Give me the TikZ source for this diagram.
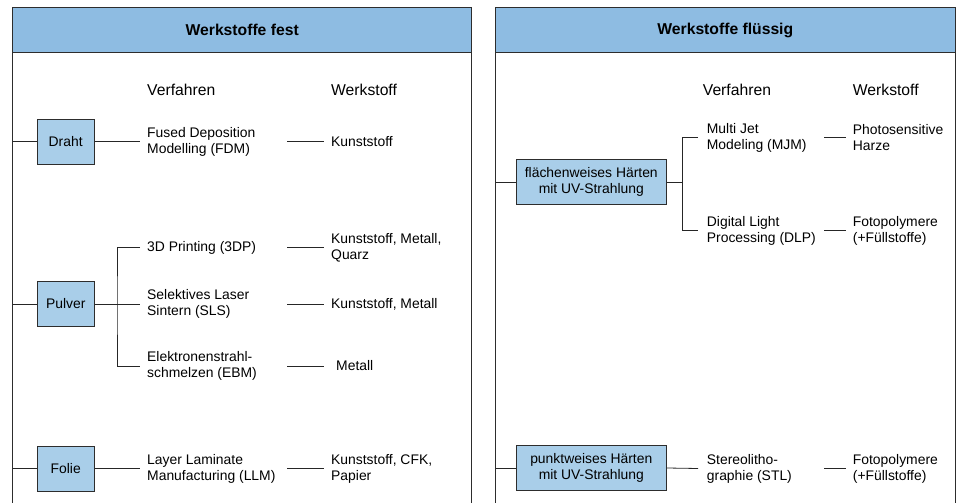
\documentclass[tikz,border=0pt]{standalone}
\usepackage{fontspec}
\setmainfont{Liberation Sans}
\definecolor{headblue}{RGB}{142,188,226}
\definecolor{boxblue}{RGB}{169,206,233}
\definecolor{linegray}{RGB}{45,45,45}
\tikzset{
  panel/.style={draw=linegray, line width=0.9pt},
  header/.style={draw=linegray, fill=headblue, line width=0.9pt},
  title/.style={font=\fontsize{15.7}{18}\selectfont\bfseries, inner sep=0pt},
  colhead/.style={font=\fontsize{15.7}{18}\selectfont, anchor=west, inner sep=0pt},
  catbox/.style={draw=linegray, fill=boxblue, line width=0.9pt, minimum width=57pt, minimum height=45pt, align=center, font=\fontsize{13.9}{16}\selectfont, inner sep=0pt},
  proc/.style={anchor=west, align=left, font=\fontsize{13.9}{16}\selectfont, inner ysep=0pt, inner xsep=7pt},
  conn/.style={draw=black!85, line width=0.8pt},
}
\begin{document}
\begin{tikzpicture}[x=1pt,y=-1pt]
\useasboundingbox (0,0) rectangle (959,503);

% ---------------- left panel ----------------
\draw[panel] (12.7,503) -- (12.7,52) (471.7,52) -- (471.7,503);
\draw[header] (12.7,7) rectangle (471.7,52);
\node[title] (tfest) at (242.2,30) {Werkstoffe fest};
\node[colhead] (vl) at (147,90) {Verfahren};
\node[colhead] (wl) at (331,90) {Werkstoff};

% Draht
\coordinate (lA) at (12.7,141.5);
\node[catbox] (draht) at (65.7,141.5) {Draht};
\node[proc] (fdm) at (140,141.5) {Fused Deposition\\Modelling (FDM)};
\coordinate (dA) at (287,141.5);
\node[proc] (mA) at (324,141.5) {Kunststoff};
\draw[conn] (lA) -- (draht.west);
\draw[conn] (draht.east) -- (fdm.west);
\draw[conn] (dA) -- (mA.west);

% Pulver
\coordinate (lB) at (12.7,304);
\node[catbox] (pulver) at (65.7,304) {Pulver};
\coordinate (bB) at (117,304);
\node[proc] (tdp) at (140,247.5) {3D Printing (3DP)};
\node[proc] (sls) at (140,304) {Selektives Laser\\Sintern (SLS)};
\node[proc] (ebm) at (140,366) {Elektronenstrahl-\\schmelzen (EBM)};
\coordinate (dB1) at (287,247.5);
\coordinate (dB2) at (287,304);
\coordinate (dB3) at (287,366);
\node[proc] (mB1) at (324,247.5) {Kunststoff, Metall,\\Quarz};
\node[proc] (mB2) at (324,304) {Kunststoff, Metall};
\node[proc, inner xsep=12pt] (mB3) at (324,366) {Metall};
\draw[conn] (lB) -- (pulver.west);
\draw[conn] (pulver.east) -- (bB);
\draw[conn] (tdp.west) -| (bB) |- (ebm.west);
\draw[conn] (bB) -- (sls.west);
\draw[conn] (dB1) -- (mB1.west);
\draw[conn] (dB2) -- (mB2.west);
\draw[conn] (dB3) -- (mB3.west);

% Folie
\coordinate (lC) at (12.7,468.5);
\node[catbox] (folie) at (65.7,468.5) {Folie};
\node[proc] (llm) at (140,468.5) {Layer Laminate\\Manufacturing (LLM)};
\coordinate (dC) at (287,468.5);
\node[proc] (mC) at (324,468.5) {Kunststoff, CFK,\\Papier};
\draw[conn] (lC) -- (folie.west);
\draw[conn] (folie.east) -- (llm.west);
\draw[conn] (dC) -- (mC.west);

% ---------------- right panel ----------------
\draw[panel] (495.7,503) -- (495.7,52) (955,52) -- (955,503);
\draw[header] (495.7,7) rectangle (955,52);
\node[title] (tfl) at (725.3,30) {Werkstoffe flüssig};
\node[colhead] (vr) at (702.7,90) {Verfahren};
\node[colhead] (wr) at (852.7,90) {Werkstoff};

% flaechenweises Haerten
\coordinate (lD) at (495.7,182);
\node[catbox, minimum width=150.7pt] (flaech) at (591.3,182) {flächenweises Härten\\mit UV-Strahlung};
\coordinate (bD) at (682.7,182);
\node[proc, inner xsep=8.7pt] (mjm) at (698,137.5) {Multi Jet\\Modeling (MJM)};
\node[proc, inner xsep=8.7pt] (dlp) at (698,230.5) {Digital Light\\Processing (DLP)};
\coordinate (dD1) at (824.3,137.5);
\coordinate (dD2) at (824.3,230.5);
\node[proc] (mD1) at (845.7,137.5) {Photosensitive\\Harze};
\node[proc] (mD2) at (845.7,230.5) {Fotopolymere\\(+Füllstoffe)};
\draw[conn] (lD) -- (flaech.west);
\draw[conn] (flaech.east) -- (bD);
\draw[conn] (mjm.west) -| (bD) |- (dlp.west);
\draw[conn] (dD1) -- (mD1.west);
\draw[conn] (dD2) -- (mD2.west);

% punktweises Haerten
\coordinate (lE) at (495.7,468);
\node[catbox, minimum width=150.7pt] (punkt) at (591.3,468) {punktweises Härten\\mit UV-Strahlung};
\node[proc, inner xsep=8.7pt] (stl) at (698,468.5) {Stereolitho-\\graphie (STL)};
\coordinate (dE) at (824.3,468.5);
\node[proc] (mE) at (845.7,468.5) {Fotopolymere\\(+Füllstoffe)};
\draw[conn] (lE) -- (punkt.west);
\draw[conn] (punkt.east) -- (stl.west);
\draw[conn] (dE) -- (mE.west);
\end{tikzpicture}
\end{document}
